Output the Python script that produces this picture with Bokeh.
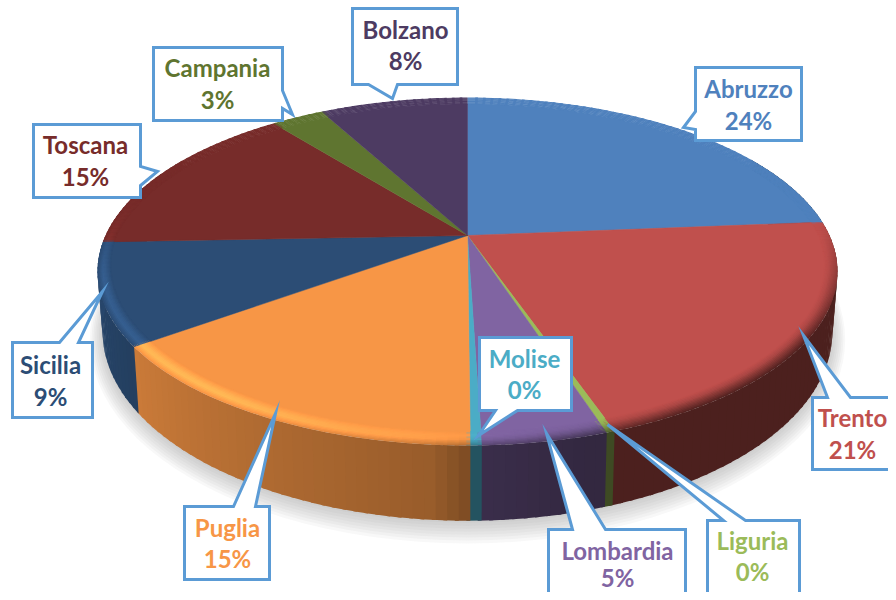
import math
import numpy as np
from bokeh.plotting import figure
from bokeh.models import Range1d, ColumnDataSource
from bokeh.core.properties import value
from bokeh.embed import file_html
from bokeh.resources import INLINE

# --- data (share of the whole, percent)
categories = ["Abruzzo", "Trento", "Liguria", "Lombardia", "Molise",
              "Puglia", "Sicilia", "Toscana", "Campania", "Bolzano"]
shares = [23.7, 21.0, 0.3, 4.5, 0.4, 15.1, 9.4, 14.9, 2.8, 7.9]
colors = ["#4F81BD", "#C0504D", "#9BBB59", "#8064A2", "#4BACC6",
          "#F79646", "#2C4D75", "#772C2A", "#5F7530", "#4D3B62"]

# --- layout of the callouts, pixels of the picture
boxes = {
    "Abruzzo": ((695, 67, 801, 140), ((695, 129), (683, 127), (695, 111)), "left"),
    "Trento": ((812, 397, 900, 469), ((827, 397), (803, 335), (850, 397)), "top"),
    "Liguria": ((707, 520, 799, 593), ((723, 520), (607, 424), (745, 520)), "top"),
    "Lombardia": ((548, 529, 685, 610), ((572, 529), (546, 433), (605, 529)), "top"),
    "Molise": ((479, 337, 571, 410), ((517, 410), (478, 435), (495, 410)), "bottom"),
    "Puglia": ((184, 506, 269, 579), ((233, 506), (275, 413), (255, 506)), "top"),
    "Sicilia": ((12, 342, 92, 417), ((59, 342), (102, 291), (78, 342)), "top"),
    "Toscana": ((33, 124, 140, 197), ((140, 166), (157, 171), (140, 185)), "right"),
    "Campania": ((153, 47, 282, 120), ((282, 90), (292, 114), (282, 108)), "right"),
    "Bolzano": ((352, 8, 457, 84), ((397, 84), (392, 98), (368, 84)), "bottom"),
}
text_pos = {
    "Abruzzo": (748, 88, 120), "Trento": (852, 417, 449), "Liguria": (752, 540, 571),
    "Lombardia": (617, 550, 577), "Molise": (524, 358, 389), "Puglia": (227, 527, 558),
    "Sicilia": (50, 364, 396), "Toscana": (85, 144, 176), "Campania": (217, 67, 99),
    "Bolzano": (405, 29, 60),
}

# --- projection of the disc
CX, K = 467.0, 0.207
TOP_Y0, TOP_A, TOP_B = 235.0, 166.5, 362.0
BOT_Y0, BOT_A, BOT_B = 292.0, 181.0, 357.0
RIM = 0.055


def project(deg, r=1.0, y0=TOP_Y0, a=TOP_A, b=TOP_B):
    t = np.radians(deg)
    u, v = r * np.sin(t), -r * np.cos(t)
    w = 1 - K * v
    return CX + b * u / w, y0 + a * v / w


def shade(h, f):
    rgb = np.array([int(h[i:i + 2], 16) for i in (1, 3, 5)], dtype=float)
    c = np.clip(rgb * f, 0, 255).astype(int)
    return "#%02x%02x%02x" % tuple(c)


def side_factor(a):
    return float(np.interp(a, [80, 165, 178, 185, 234, 270], [.4, .4, .46, .62, .82, .95]))


def lit_weight(a):
    return float(np.interp(a, [150, 182, 215, 260, 300], [0, .5, 1, 1, 0]))


def rim_strength(a):
    # no visible bevel on the back of the disc
    return float(np.interp(a, [85, 125, 255, 285], [0, 1, 1, 0]))


def rim_radius(t, deg):
    # t = 0 inner edge of the rim, t = 1 outer edge; the rim is narrower at the sides
    width = RIM * (0.55 + 0.45 * np.abs(np.cos(np.radians(deg))))
    return 1 - width * (1 - t)


cum = np.concatenate([[0], np.cumsum(shares)]) * 3.6

p = figure(width=888, height=592, output_backend="svg", toolbar_location=None,
           x_range=Range1d(0, 888), y_range=Range1d(592, 0),
           min_border=0, outline_line_color=None, background_fill_color="white",
           border_fill_color="white")
p.axis.visible = False
p.grid.visible = False

# soft shadow under the front of the pie
angs = np.arange(60, 300.1, 3)
for i, g in enumerate(np.linspace(1.14, 1.0, 8)):
    x, y = project(angs, 1.0, BOT_Y0, BOT_A, BOT_B)
    sx = CX + (x - CX) * (1 + (g - 1) * 0.25)
    sy = BOT_Y0 - 40 + (y - BOT_Y0 + 40) * (1 + (g - 1) * 0.55) + 2
    p.patch(list(sx), list(sy), fill_color="#808080", fill_alpha=0.06, line_color=None)

STEP, OVER = 1.5, 0.5

# outer wall, each strip overlapping the one before
wx, wy, wc = [], [], []
walls = []
for s, h in enumerate(colors):
    a0, a1 = cum[s], cum[s + 1]
    n = max(1, math.ceil((a1 - a0) / STEP))
    edges = np.linspace(a0, a1, n + 1)
    for e0, e1 in zip(edges[:-1], edges[1:]):
        walls.append((e0, min(e1 + OVER, 360.0), h))
for e0, e1, h in walls:
    mid = (e0 + e1) / 2
    if 60 < mid < 300:
        tx, ty = project(np.array([e0, e1]))
        bx, by = project(np.array([e1, e0]), 1.0, BOT_Y0, BOT_A, BOT_B)
        wx.append(list(tx) + list(bx))
        wy.append(list(ty) + list(by))
        wc.append(shade(h, side_factor(mid)))
p.patches("xs", "ys", source=ColumnDataSource(dict(xs=wx, ys=wy, fc=wc)),
          fill_color="fc", line_color=None)

# rounded rim: bands from the outer edge inwards
N_RIM = 11
rim_t = np.linspace(0, 1, N_RIM + 1)
rx, ry, rc = [], [], []
for j in range(N_RIM - 1, -1, -1):
    t = (rim_t[j] + rim_t[j + 1]) / 2
    # highlight rises then falls across the rim on the lit side
    light_f = float(np.interp(t, [0, .4, .6, 1], [1.0, 1.2, 1.24, .98]))
    dark_f = float(np.interp(t, [0, .3, 1], [1.0, .9, .42]))
    for e0, e1, h in walls:
        mid = (e0 + e1) / 2
        lw, st, sf = lit_weight(mid), rim_strength(mid), side_factor(mid)
        d = 1 - (1 - dark_f) * (1 - sf) / 0.6
        f = lw * light_f + (1 - lw) * d
        f = 1 + (f - 1) * st
        e = np.array([e0, e1])
        ox, oy = project(e, rim_radius(rim_t[j + 1], e))
        back = e[::-1]
        ix, iy = project(back, rim_radius(rim_t[j], back) - 0.003)
        rx.append(list(ox) + list(ix))
        ry.append(list(oy) + list(iy))
        rc.append(shade(h, f))
p.patches("xs", "ys", source=ColumnDataSource(dict(xs=rx, ys=ry, fc=rc)),
          fill_color="fc", line_color=None)

# flat top of each slice
fx, fy, fc = [], [], []
cx0, cy0 = project(np.array([0.0]), 0.0)
for s, h in enumerate(colors):
    a = np.linspace(cum[s], cum[s + 1], max(2, int((cum[s + 1] - cum[s]) / STEP) + 2))
    x, y = project(a, rim_radius(0.0, a))
    fx.append([cx0[0]] + list(x))
    fy.append([cy0[0]] + list(y))
    fc.append(h)
p.patches("xs", "ys", source=ColumnDataSource(dict(xs=fx, ys=fy, fc=fc)),
          fill_color="fc", line_color="fc", line_width=0.5)

# callouts
for name, (box, tail, side) in boxes.items():
    l, t, r, b = box
    (b0, tip, b1) = tail
    if side == "top":
        px = [l, b0[0], tip[0], b1[0], r, r, l]
        py = [t, t, tip[1], t, t, b, b]
    elif side == "bottom":
        px = [l, r, r, b0[0], tip[0], b1[0], l]
        py = [t, t, b, b, tip[1], b, b]
    elif side == "right":
        px = [l, r, r, tip[0], r, r, l]
        py = [t, t, b0[1], tip[1], b1[1], b, b]
    else:
        px = [l, r, r, l, l, tip[0], l]
        py = [t, t, b, b, b0[1], tip[1], b1[1]]
    p.patch(px, py, fill_color="white", line_color="#5B9BD5", line_width=3,
            line_join="miter")

for name, share, col in zip(categories, shares, colors):
    x, y1, y2 = text_pos[name]
    pct = "%d%%" % math.floor(share + 0.5)
    p.text([x, x], [y1, y2], text=[name, pct], text_align="center", text_baseline="middle",
           text_font=value("Lato"), text_font_style="bold", text_font_size="24px",
           text_color=col)

open("out.html", "w").write(file_html(p, INLINE))
